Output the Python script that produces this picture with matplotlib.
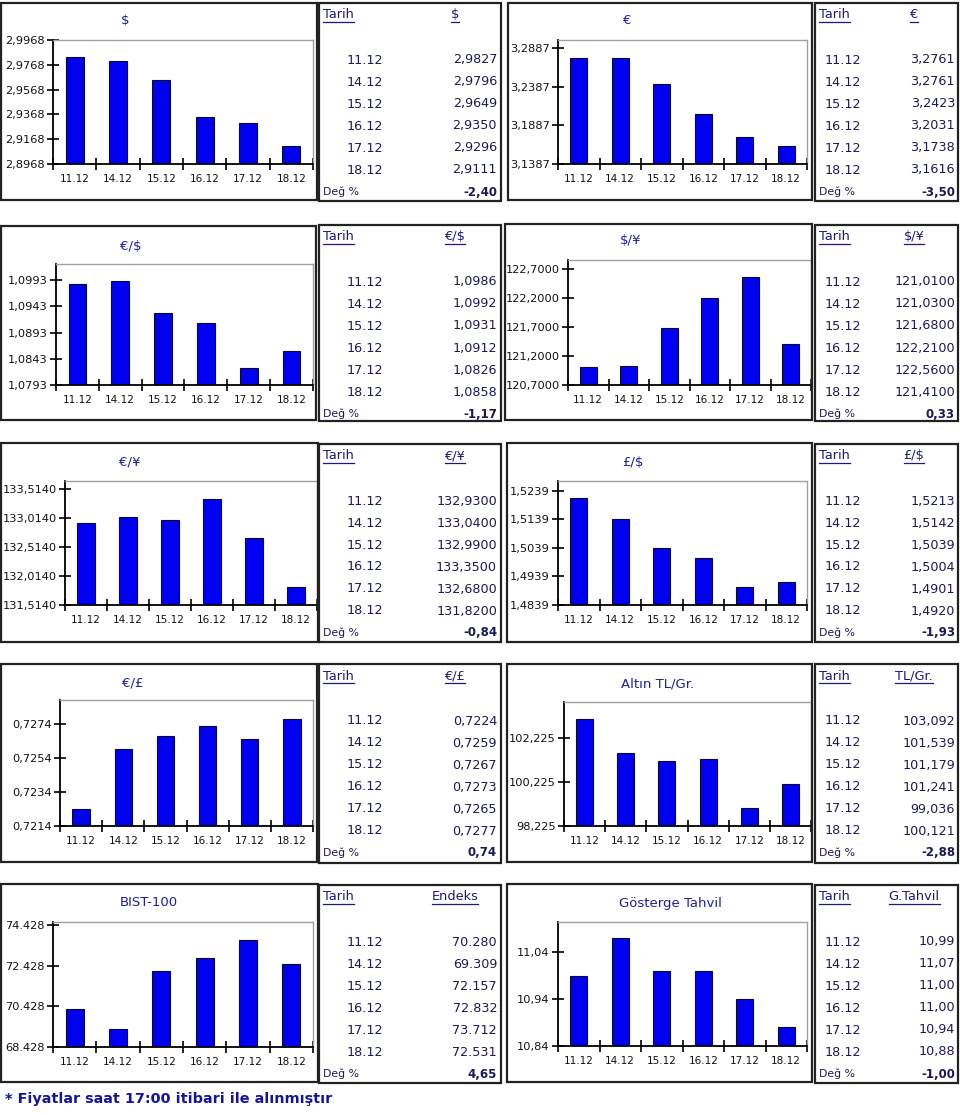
import matplotlib
matplotlib.use('Agg')
import matplotlib.pyplot as plt
from matplotlib.patches import Rectangle
from matplotlib.lines import Line2D
import numpy as np

W, H = 960, 1115

dates = ['11.12', '14.12', '15.12', '16.12', '17.12', '18.12']

# chart / table values
usd = [2.9827, 2.9796, 2.9649, 2.9350, 2.9296, 2.9111]
eur = [3.2761, 3.2761, 3.2423, 3.2031, 3.1738, 3.1616]
eurusd = [1.0986, 1.0992, 1.0931, 1.0912, 1.0826, 1.0858]
usdjpy = [121.0100, 121.0300, 121.6800, 122.2100, 122.5600, 121.4100]
eurjpy = [132.9300, 133.0400, 132.9900, 133.3500, 132.6800, 131.8200]
gbpusd = [1.5213, 1.5142, 1.5039, 1.5004, 1.4901, 1.4920]
eurgbp = [0.7224, 0.7259, 0.7267, 0.7273, 0.7265, 0.7277]
gold = [103.092, 101.539, 101.179, 101.241, 99.036, 100.121]
bist = [70.280, 69.309, 72.157, 72.832, 73.712, 72.531]
bond = [10.99, 11.07, 11.00, 11.00, 10.94, 10.88]

# % change row
changes = [-2.40, -3.50, -1.17, 0.33, -0.84, -1.93, 0.74, -2.88, 4.65, -1.00]

# y tick values of each chart
usd_ticks = [2.8968, 2.9168, 2.9368, 2.9568, 2.9768, 2.9968]
eur_ticks = [3.1387, 3.1887, 3.2387, 3.2887]
eurusd_ticks = [1.0793, 1.0843, 1.0893, 1.0943, 1.0993]
usdjpy_ticks = [120.7, 121.2, 121.7, 122.2, 122.7]
eurjpy_ticks = [131.514, 132.014, 132.514, 133.014, 133.514]
gbpusd_ticks = [1.4839, 1.4939, 1.5039, 1.5139, 1.5239]
eurgbp_ticks = [0.7214, 0.7234, 0.7254, 0.7274]
gold_ticks = [98.225, 100.225, 102.225]
bist_ticks = [68.428, 70.428, 72.428, 74.428]
bond_ticks = [10.84, 10.94, 11.04]

titles = ['$', '€', '€/$', '$/¥', '€/¥', '£/$', '€/£', 'Altın TL/Gr.', 'BIST-100', 'Gösterge Tahvil']
headers = ['$', '€', '€/$', '$/¥', '€/¥', '£/$', '€/£', 'TL/Gr.', 'Endeks', 'G.Tahvil']

BAR = '#0000f0'
TITLE_C = '#1c1cb0'
TXT = '#1a1a58'


def rect(x0, y0, x1, y1):
    return [x0 / W, 1 - y1 / H, (x1 - x0) / W, (y1 - y0) / H]


def fmt(v, d, sep=','):
    return f'{v:.{d}f}'.replace('.', sep)


fig = plt.figure(figsize=(9.6, 11.15), dpi=100)
fig.patch.set_facecolor('white')


def box(x0, y0, x1, y1):
    fig.add_artist(Rectangle((x0 / W, 1 - y1 / H), (x1 - x0) / W, (y1 - y0) / H,
                             transform=fig.transFigure, fill=False,
                             edgecolor='#222222', linewidth=1.6))


underline = []


def draw_chart(vals, ticks, dec, sep, title, plot, ytop, tpos):
    ax = fig.add_axes(rect(*plot))
    x = np.arange(len(dates))
    ax.bar(x, vals, width=0.41, color=BAR, edgecolor='#0a0a30', linewidth=0.8)
    ax.set_xlim(-0.5, 5.5)
    ax.set_ylim(ticks[0], ytop)
    ax.set_yticks(ticks)
    ax.set_yticklabels([fmt(t, dec, sep) for t in ticks])
    ax.set_xticks(np.arange(-0.5, 6, 1))
    ax.set_xticklabels([])
    ax.set_xticks(x, minor=True)
    ax.set_xticklabels(dates, minor=True)
    ax.tick_params(axis='x', which='major', direction='inout', length=8, width=1.2)
    ax.tick_params(axis='x', which='minor', length=0, labelsize=7.5, pad=7, labelcolor='#111111')
    ax.tick_params(axis='y', direction='inout', length=8, width=1.2, labelsize=8.2,
                   pad=2, labelcolor='#111111')
    for s in ['left', 'bottom']:
        ax.spines[s].set_color('black')
        ax.spines[s].set_linewidth(1.3)
    for s in ['top', 'right']:
        ax.spines[s].set_color('#a0a0a0')
        ax.spines[s].set_linewidth(1.0)
    fig.text(tpos[0] / W, 1 - tpos[1] / H, title, fontsize=9.5, color=TITLE_C,
             ha='center', va='center')


def draw_table(tb, side, header, vals, dec, sep, chg):
    x0, y0, x1, y1 = tb
    box(x0, y0, x1, y1)
    if side == 'L':
        xl, xd, xh, xr = 323, 365, 455, 497
    else:
        xl, xd, xh, xr = 819, 843, 914, 955
    t1 = fig.text(xl / W, 1 - (y0 + 12) / H, 'Tarih', fontsize=9.3, color='#1a1a80',
                  ha='left', va='center')
    t2 = fig.text(xh / W, 1 - (y0 + 12) / H, header, fontsize=9.3, color='#1a1a80',
                  ha='center', va='center')
    underline.extend([t1, t2])
    for i, (d, v) in enumerate(zip(dates, vals)):
        yy = 1 - (y0 + 57 + 22 * i) / H
        fig.text(xd / W, yy, d, fontsize=9.2, color=TXT, ha='center', va='center')
        fig.text(xr / W, yy, fmt(v, dec, sep), fontsize=9.2, color=TXT, ha='right', va='center')
    yy = 1 - (y0 + 189) / H
    fig.text(xl / W, yy, 'Değ %', fontsize=7.8, color=TXT, ha='left', va='center')
    fig.text(xr / W, yy, fmt(chg, 2), fontsize=8.5, color=TXT, ha='right', va='center',
             fontweight='bold')


series = [usd, eur, eurusd, usdjpy, eurjpy, gbpusd, eurgbp, gold, bist, bond]
tick_sets = [usd_ticks, eur_ticks, eurusd_ticks, usdjpy_ticks, eurjpy_ticks,
             gbpusd_ticks, eurgbp_ticks, gold_ticks, bist_ticks, bond_ticks]
decimals = [4, 4, 4, 4, 4, 4, 4, 3, 3, 2]
seps = [',', ',', ',', ',', ',', ',', ',', ',', '.', ',']

# layout (pixels): chart box, plot area, y-axis top, title position, table box
boxes = [(1, 3, 317, 200), (508, 3, 812, 200),
         (1, 226, 316, 420), (505, 224, 812, 420),
         (1, 443, 318, 642), (507, 443, 812, 642),
         (1, 664, 317, 862), (507, 664, 812, 862),
         (1, 884, 318, 1082), (507, 884, 812, 1082)]
plots = [(53, 40, 313, 164), (558, 40, 807, 164),
         (56, 264, 313, 385), (568, 260, 811, 385),
         (65, 481, 317, 605), (558, 481, 807, 605),
         (60, 700, 313, 826), (564, 702, 811, 826),
         (53, 922, 313, 1047), (558, 922, 807, 1046)]
ytops = [2.9968, 3.2996, 1.1024, 122.86, 133.657, 1.5274, 0.7288, 103.84, 74.6, 11.104]
tposs = [(125, 21), (627, 20), (131, 247), (631, 241), (130, 462), (633, 462),
         (133, 683), (658, 684), (149, 903), (670, 903)]
row_y = [(3, 201), (225, 421), (444, 642), (664, 863), (885, 1083)]

for k in range(10):
    box(*boxes[k])
    draw_chart(series[k], tick_sets[k], decimals[k], seps[k], titles[k],
               plots[k], ytops[k], tposs[k])
    r = k // 2
    if k % 2 == 0:
        tb = (319, row_y[r][0], 501, row_y[r][1])
        side = 'L'
    else:
        tb = (815, row_y[r][0], 958, row_y[r][1])
        side = 'R'
    draw_table(tb, side, headers[k], series[k], decimals[k], seps[k], changes[k])

fig.text(5 / W, 1 - 1099 / H, '* Fiyatlar saat 17:00 itibari ile alınmıştır',
         fontsize=10.4, fontweight='bold', color='#1414a0', ha='left', va='center')

# underline the table headers
fig.canvas.draw()
renderer = fig.canvas.get_renderer()
for t in underline:
    bb = t.get_window_extent(renderer)
    yl = (bb.y0 - 0.5) / fig.bbox.height
    fig.add_artist(Line2D([bb.x0 / fig.bbox.width, bb.x1 / fig.bbox.width], [yl, yl],
                          transform=fig.transFigure, color='#1a1a80', linewidth=0.9))

fig.savefig('out.png', dpi=100)
